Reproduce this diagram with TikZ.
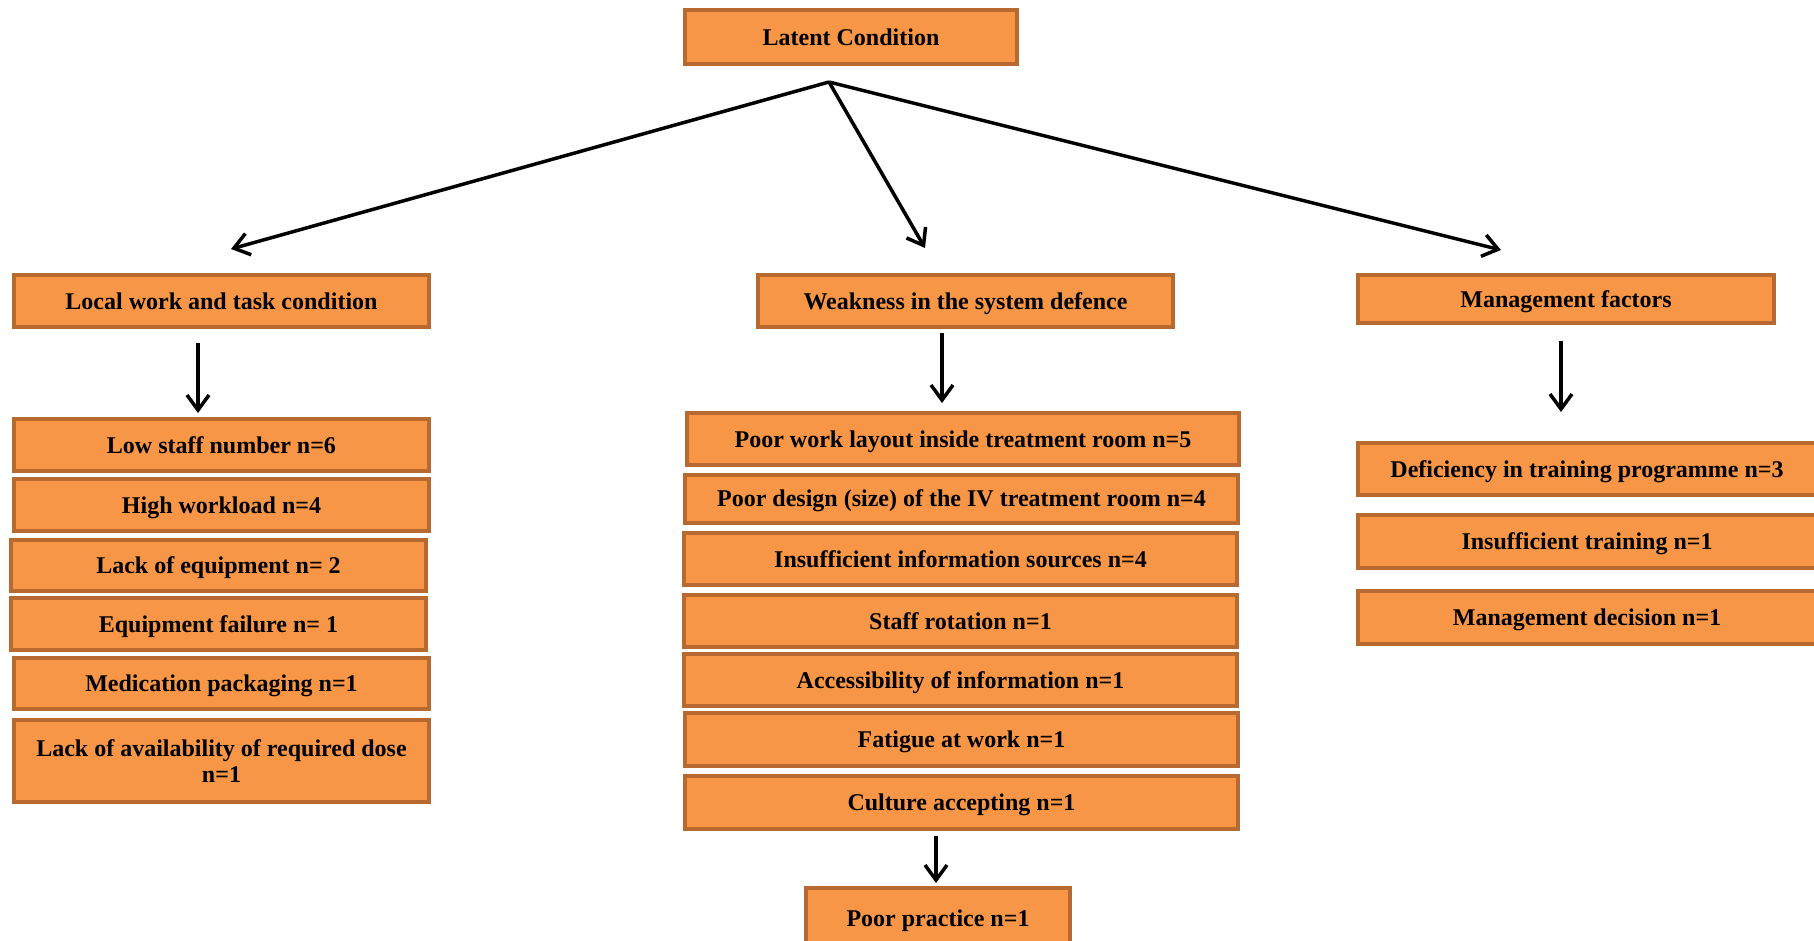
\documentclass[tikz,border=0pt]{standalone}
\usepackage{fontspec}
\setmainfont{Liberation Serif}
\usetikzlibrary{arrows.meta}
\definecolor{boxfill}{HTML}{F79646}
\definecolor{boxline}{HTML}{B7692F}
\begin{document}
\begin{tikzpicture}[x=1pt,y=-1pt,
  box/.style={draw=boxline, fill=boxfill, line width=4pt, inner sep=2pt,
    text height=20pt, text depth=3.5pt,
    font=\fontsize{24}{26}\selectfont\bfseries},
  twoline/.style={text height=, text depth=, align=center},
  arr/.style={line width=3.5pt, -{Straight Barb[length=15pt,width=22pt,line width=3.5pt]}}]
\useasboundingbox (0,0) rectangle (1814,940);
% top
\node[box, minimum width=332pt, minimum height=54pt] (latent) at (851,37) {Latent Condition};
% level 2
\node[box, minimum width=415pt, minimum height=52pt] (local) at (221.5,301) {Local work and task condition};
\node[box, minimum width=415pt, minimum height=52pt] (weak) at (965.5,301) {Weakness in the system defence};
\node[box, minimum width=416pt, minimum height=48pt] (mgmt) at (1566,299) {Management factors};
% left column
\node[box, minimum width=415pt, minimum height=52pt] (lowstaff) at (221.5,445) {Low staff number n=6};
\node[box, minimum width=415pt, minimum height=52pt] (highwork) at (221.5,505) {High workload n=4};
\node[box, minimum width=415pt, minimum height=51pt] (lackeq) at (218.5,565) {Lack of equipment n= 2};
\node[box, minimum width=415pt, minimum height=52pt] (eqfail) at (218.5,624) {Equipment failure n= 1};
\node[box, minimum width=415pt, minimum height=51pt] (medpack) at (221.5,683.5) {Medication packaging n=1};
\node[box, twoline, minimum width=415pt, minimum height=82pt] (lackavail) at (221.5,761) {Lack of availability of required dose\\n=1};
% middle column
\node[box, minimum width=552pt, minimum height=52pt] (layout) at (963,439) {Poor work layout inside treatment room n=5};
\node[box, minimum width=553pt, minimum height=48pt] (design) at (961.5,498.5) {Poor design (size) of the IV treatment room n=4};
\node[box, minimum width=553pt, minimum height=52pt] (insuff) at (960.5,559) {Insufficient information sources n=4};
\node[box, minimum width=553pt, minimum height=52pt] (staffrot) at (960.5,621) {Staff rotation n=1};
\node[box, minimum width=553pt, minimum height=52pt] (access) at (960.5,680) {Accessibility of information n=1};
\node[box, minimum width=553pt, minimum height=53pt] (fatigue) at (961.5,739.5) {Fatigue at work n=1};
\node[box, minimum width=553pt, minimum height=53pt] (culture) at (961.5,802.5) {Culture accepting n=1};
\node[box, minimum width=264pt, minimum height=60pt] (poorprac) at (938,918) {Poor practice n=1};
% right column
\node[box, minimum width=458pt, minimum height=52pt] (defic) at (1587,469) {Deficiency in training programme n=3};
\node[box, minimum width=458pt, minimum height=53pt] (instrain) at (1587,541.5) {Insufficient training n=1};
\node[box, minimum width=458pt, minimum height=53pt] (mdec) at (1587,617.5) {Management decision n=1};
% connector coordinates
\coordinate (apex) at (829,82);
\coordinate (tipL) at (231,249);
\coordinate (tipM) at (925,248);
\coordinate (tipR) at (1501,250);
\coordinate (lA) at (198,343); \coordinate (lB) at (198,413);
\coordinate (mA) at (942,333); \coordinate (mB) at (942,403);
\coordinate (rA) at (1561,341); \coordinate (rB) at (1561,412);
\coordinate (pA) at (936,836); \coordinate (pB) at (936,883);
% arrows
\draw[arr] (apex) -- (tipL);
\draw[arr] (apex) -- (tipM);
\draw[arr] (apex) -- (tipR);
\draw[arr] (lA) -- (lB);
\draw[arr] (mA) -- (mB);
\draw[arr] (rA) -- (rB);
\draw[arr] (pA) -- (pB);
\end{tikzpicture}
\end{document}
